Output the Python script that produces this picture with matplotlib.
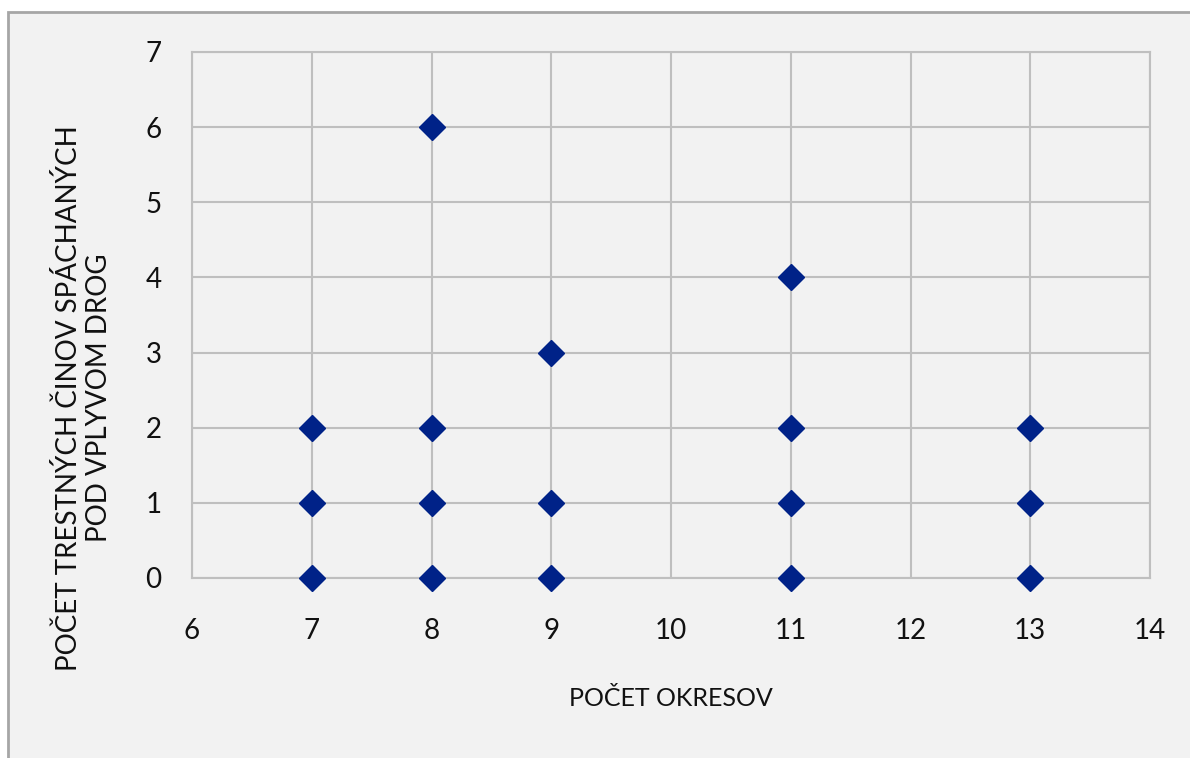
import matplotlib.pyplot as plt
from matplotlib.patches import Rectangle

# data: number of districts vs. crimes under drug influence
okresy = [7, 7, 7, 8, 8, 8, 8, 9, 9, 9, 11, 11, 11, 11, 13, 13, 13]
ciny = [0, 1, 2, 0, 1, 2, 6, 0, 1, 3, 0, 1, 2, 4, 0, 1, 2]

x_ticks = [6, 7, 8, 9, 10, 11, 12, 13, 14]
y_ticks = [0, 1, 2, 3, 4, 5, 6, 7]

plt.rcParams['font.family'] = ['Lato', 'DejaVu Sans']

fig = plt.figure(figsize=(11.9, 7.58), dpi=100)
fig.patch.set_facecolor('white')

# outer chart frame (Excel-like), runs off the right and bottom edges
frame = Rectangle((8 / 1190, -0.1), 1.2, 1.1 - 12 / 758, transform=fig.transFigure,
                  facecolor='#f2f2f2', edgecolor='#a6a6a6', linewidth=2, zorder=-5)
fig.patches.append(frame)

ax = fig.add_axes([192 / 1190, 1 - 578 / 758, (1150 - 192) / 1190, (578 - 52) / 758])
ax.set_facecolor('#f2f2f2')

ax.plot(okresy, ciny, linestyle='none', marker='D', markersize=13,
        color='#002288', clip_on=False, zorder=3)

ax.set_xlim(6, 14)
ax.set_ylim(0, 7)
ax.set_xticks(x_ticks)
ax.set_yticks(y_ticks)
ax.grid(True, color='#bfbfbf', linewidth=1.5)
ax.set_axisbelow(True)
for s in ax.spines.values():
    s.set_color('#bfbfbf')
    s.set_linewidth(1.5)

ax.tick_params(axis='both', length=0, labelsize=20, colors='#111111')
ax.tick_params(axis='x', pad=29)
ax.tick_params(axis='y', pad=22)

ax.set_xlabel('POČET OKRESOV', fontsize=18, color='#111111', labelpad=31)
ax.set_ylabel('POČET TRESTNÝCH ČINOV SPÁCHANÝCH\nPOD VPLYVOM DROG', fontsize=20,
              color='#111111', linespacing=1.15)
ax.yaxis.set_label_coords(-0.084, 0.342)

fig.savefig('out.png', dpi=100, facecolor=fig.get_facecolor())
